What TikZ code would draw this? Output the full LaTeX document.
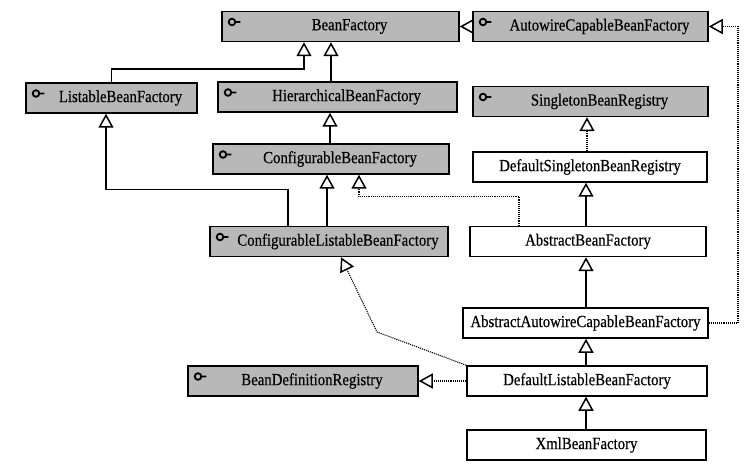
\documentclass[tikz,border=0pt]{standalone}
\usepackage{fontspec}
\setmainfont{Liberation Serif}[FakeStretch=0.87, FakeBold=0.4]
\usetikzlibrary{arrows.meta}

\tikzset{
  iface/.style={draw, line width=1.5pt, fill=black!28, minimum height=30pt, inner sep=2pt,
    execute at begin node={\hspace*{18pt}},
    path picture={\draw[line width=1.8pt] ([shift={(10pt,4.5pt)}]path picture bounding box.west)
      circle (3.3pt) ++(3.3pt,0pt) -- ++(5pt,0pt);}},
  cls/.style={draw, line width=1.5pt, fill=white, minimum height=30pt, inner sep=2pt},
  impl/.style={->, densely dotted, line width=1.1pt}
}

\begin{document}
\begin{tikzpicture}[x=1pt, y=-1pt, >={Triangle[open,length=14pt,width=15pt,line width=1.5pt]},
  line width=1.5pt, node font=\fontsize{17}{19}\selectfont]
\useasboundingbox (0,0) rectangle (748,468);

% the interfaces
\node[iface, minimum width=237pt] (bf)   at (340.5,26.5) {BeanFactory};
\node[iface, minimum width=235pt] (acbf) at (590.5,26.5) {AutowireCapableBeanFactory};
\node[iface, minimum width=171pt] (lbf)  at (111.5,98)   {ListableBeanFactory};
\node[iface, minimum width=239pt] (hbf)  at (337.5,97)   {HierarchicalBeanFactory};
\node[iface, minimum width=235pt] (sbr)  at (590.5,101.5) {SingletonBeanRegistry};
\node[iface, minimum width=236pt] (cbf)  at (331,159)    {ConfigurableBeanFactory};
\node[iface, minimum width=238pt] (clbf) at (329,241.5)  {ConfigurableListableBeanFactory};
\node[iface, minimum width=230pt] (bdr)  at (303,381)    {BeanDefinitionRegistry};

% the classes
\node[cls, minimum width=234pt] (dsbr)  at (590,167)   {DefaultSingletonBeanRegistry};
\node[cls, minimum width=236pt] (abf)   at (588,241.5) {AbstractBeanFactory};
\node[cls, minimum width=245pt] (aacbf) at (585.5,323) {AbstractAutowireCapableBeanFactory};
\node[cls, minimum width=240pt] (dlbf)  at (587,381)   {DefaultListableBeanFactory};
\node[cls, minimum width=239pt] (xbf)   at (586.5,445) {XmlBeanFactory};

% interface inheritance
\draw[->] (acbf) -- (bf);
\draw[->] (lbf.north) -- ++(0,-13) -| (304,0 |- bf.south);
\draw[->] (hbf.north -| 331,0) -- (bf.south -| 331,0);
\draw[->] (cbf.north -| 330,0) -- (hbf.south -| 330,0);
\draw[->] (clbf.north -| 327,0) -- (cbf.south -| 327,0);
\draw[->] (clbf.north -| 288,0) -- ++(0,-36) -| (lbf.south -| 106,0);

% class inheritance
\foreach \a/\b in {xbf/dlbf, dlbf/aacbf, aacbf/abf, abf/dsbr}
\draw[->] (\a.north -| 586,0) -- (\b.south -| 586,0);

% realizations
\draw[impl] (dsbr.north -| 587,0) -- (sbr.south -| 587,0);
\draw[impl] (abf.north -| 519,0) -- ++(0,-29) -| (cbf.south -| 359,0);
\draw[impl] (aacbf.east) -| (738,0 |- acbf.east) -- (acbf.east);
\draw[impl] (dlbf.west) -- (bdr.east);
\draw[impl] (dlbf.north west) -- (377,332) -- (clbf.south -| 341,0);
\end{tikzpicture}
\end{document}
